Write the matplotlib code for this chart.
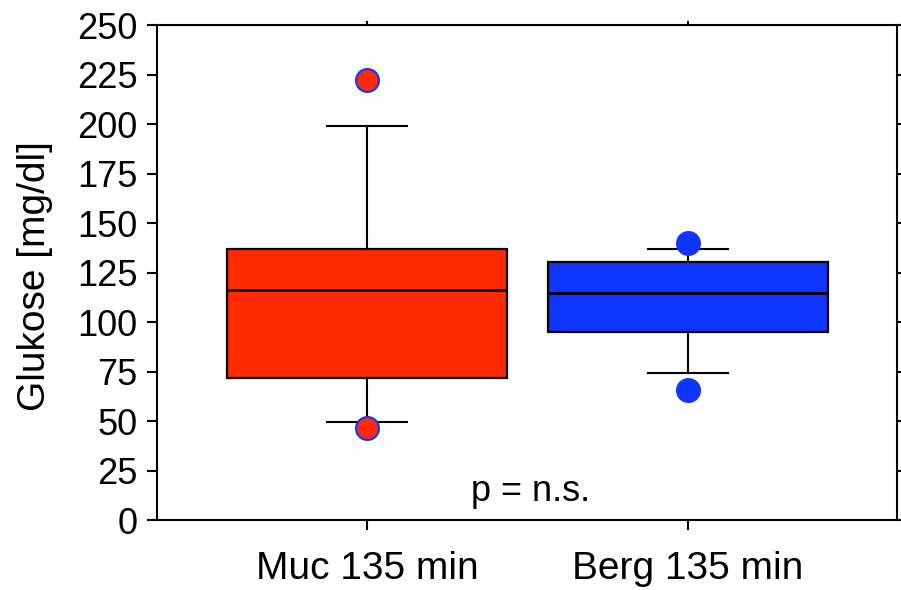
import matplotlib
matplotlib.use("Agg")
import matplotlib.pyplot as plt

plt.rcParams['font.family'] = ['Liberation Sans', 'DejaVu Sans']

groups = ["Muc 135 min", "Berg 135 min"]
q1 = [71.5, 95.2]
median = [116.0, 114.5]
q3 = [137.0, 130.2]
whislo = [49.5, 74.4]
whishi = [199.0, 136.8]
fliers = [[222.0, 46.5], [140.0, 65.7]]

box_colors = ["#ff2a00", "#1035ff"]
flier_edges = ["#1035ff", "#1035ff"]

fig = plt.figure(figsize=(9.01, 5.90), dpi=100)
ax = fig.add_axes([0.1743, 0.1186, 0.8213, 0.839])

stats = []
for i in range(len(groups)):
    stats.append({"label": groups[i], "q1": q1[i], "med": median[i], "q3": q3[i],
                  "whislo": whislo[i], "whishi": whishi[i], "fliers": []})

bp = ax.bxp(stats, positions=[1, 2], widths=0.87, patch_artist=True,
            showfliers=False,
            boxprops=dict(linewidth=1.6, edgecolor="black"),
            medianprops=dict(color="black", linewidth=2.0),
            whiskerprops=dict(color="black", linewidth=1.5),
            capprops=dict(color="black", linewidth=1.5),
            capwidths=0.25)
for patch, c in zip(bp["boxes"], box_colors):
    patch.set_facecolor(c)

for i in range(len(groups)):
    ax.plot([i + 1] * len(fliers[i]), fliers[i], "o", markersize=16.5,
            markerfacecolor=box_colors[i], markeredgecolor=flier_edges[i],
            markeredgewidth=1.5, zorder=5, clip_on=False)

ax.text(1.51, 9.6, "p = n.s.", ha="center", va="baseline", fontsize=26)

ax.set_xlim(0.346, 2.651)
ax.set_ylim(0, 250)
ax.set_yticks(range(0, 251, 25))
ax.set_xticks([1, 2])
ax.set_xticklabels(groups)
ax.set_ylabel("Glukose [mg/dl]", fontsize=28)
ax.yaxis.set_label_coords(-0.141, 0.493)

for s in ax.spines.values():
    s.set_linewidth(1.5)
ax.tick_params(axis="both", width=1.5, length=7, direction="out")
ax.tick_params(axis="y", labelsize=26, pad=7, right=True)
ax.tick_params(axis="x", labelsize=28, pad=15, top=True)
for t in ax.xaxis.get_major_ticks():
    t.tick2line.set_markersize(3)

fig.savefig("out.png", dpi=100)
